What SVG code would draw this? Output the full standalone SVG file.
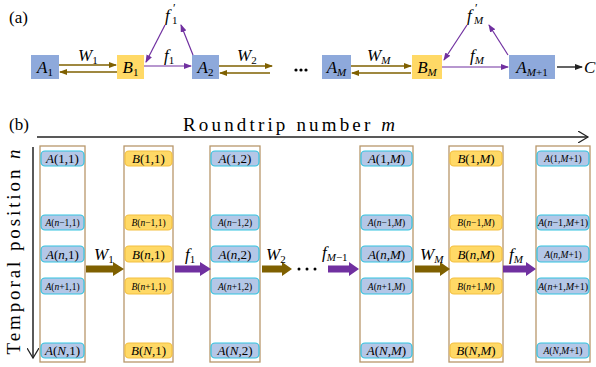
<svg xmlns="http://www.w3.org/2000/svg" width="596" height="367" viewBox="0 0 596 367" font-family="'Liberation Serif', 'Times New Roman', serif">
<style>
text{font-family:'Liberation Serif','Times New Roman',serif;fill:#000}
.i{font-style:italic}
.bA{fill:#8EA9DB}
.bB{fill:#FFD966}
.col{fill:#fff;stroke:#B8976B;stroke-width:1.3}
.cA{fill:#B4C7E7;stroke:#33C3E0;stroke-width:1.2}
.cB{fill:#FFD966;stroke:#F4C040;stroke-width:1.2}
.w{stroke:#7F6000;stroke-width:1.4;fill:none}
.f{stroke:#7030A0;stroke-width:1.2;fill:none}
.big{font-size:13px}
.sm{font-size:9.5px}
.lbl{font-size:17px}
.cell text{text-anchor:middle}
</style>
<defs>
<marker id="mw" markerWidth="8" markerHeight="6" refX="7" refY="3" orient="auto" markerUnits="userSpaceOnUse"><path d="M0,0 L8,3 L0,6 z" fill="#7F6000"/></marker>
<marker id="mf" markerWidth="8" markerHeight="6" refX="7" refY="3" orient="auto" markerUnits="userSpaceOnUse"><path d="M0,0 L8,3 L0,6 z" fill="#7030A0"/></marker>
<marker id="mk" markerWidth="8" markerHeight="6" refX="7" refY="3" orient="auto" markerUnits="userSpaceOnUse"><path d="M0,0 L8,3 L0,6 z" fill="#222"/></marker>
<marker id="mo" markerWidth="12" markerHeight="12" refX="10" refY="6" orient="auto" markerUnits="userSpaceOnUse"><path d="M0,0 L10,6 L0,12" fill="none" stroke="#222" stroke-width="1.2"/></marker>
</defs>

<text x="9" y="23" font-size="17">(a)</text>
<text x="9" y="130" font-size="17">(b)</text>

<!-- Part (a) nodes -->
<g id="a-A1"><rect class="bA" x="31" y="55" width="28" height="24"/><text x="45" y="73" text-anchor="middle" class="lbl"><tspan class="i">A</tspan><tspan font-size="11" dy="3">1</tspan></text></g>
<g id="a-B1"><rect class="bB" x="117" y="55" width="27" height="24"/><text x="130.5" y="73" text-anchor="middle" class="lbl"><tspan class="i">B</tspan><tspan font-size="11" dy="3">1</tspan></text></g>
<g id="a-A2"><rect class="bA" x="192" y="55" width="27" height="24"/><text x="205.5" y="73" text-anchor="middle" class="lbl"><tspan class="i">A</tspan><tspan font-size="11" dy="3">2</tspan></text></g>
<g id="a-AM"><rect class="bA" x="322" y="55" width="29" height="24"/><text x="336.5" y="73" text-anchor="middle" class="lbl"><tspan class="i">A</tspan><tspan font-size="11" dy="3" class="i">M</tspan></text></g>
<g id="a-BM"><rect class="bB" x="412" y="55" width="30" height="24"/><text x="427" y="73" text-anchor="middle" class="lbl"><tspan class="i">B</tspan><tspan font-size="11" dy="3" class="i">M</tspan></text></g>
<g id="a-AM1"><rect class="bA" x="509" y="55" width="46" height="24"/><text x="532" y="73" text-anchor="middle" class="lbl"><tspan class="i">A</tspan><tspan font-size="11" dy="3"><tspan class="i">M</tspan>+1</tspan></text></g>
<g id="a-C"><text x="584" y="73" class="lbl i">C</text></g>
<g id="a-f1p"><text x="165" y="21" class="lbl i">f</text><text x="173" y="12" font-size="12">′</text><text x="172" y="24" font-size="11">1</text></g>
<g id="a-fMp"><text x="467" y="21" class="lbl i">f</text><text x="475" y="12" font-size="12">′</text><text x="474" y="24" font-size="11" class="i">M</text></g>

<!-- Part (a) connectors -->
<g id="a-connectors">
<line class="w" x1="59" y1="65" x2="116" y2="65" marker-end="url(#mw)"/>
<line class="w" x1="117" y1="72" x2="60" y2="72" marker-end="url(#mw)"/>
<line class="f" x1="144" y1="66" x2="191" y2="66" marker-end="url(#mf)"/>
<line class="f" x1="193" y1="55" x2="181" y2="25" marker-end="url(#mf)"/>
<line class="f" x1="165" y1="25" x2="146" y2="62" marker-end="url(#mf)"/>
<line class="w" x1="219" y1="66" x2="272" y2="66" marker-end="url(#mw)"/>
<line class="w" x1="270" y1="73" x2="220" y2="73" marker-end="url(#mw)"/>
<line class="w" x1="351" y1="66" x2="411" y2="66" marker-end="url(#mw)"/>
<line class="w" x1="411" y1="73" x2="352" y2="73" marker-end="url(#mw)"/>
<line class="f" x1="442" y1="67" x2="508" y2="67" marker-end="url(#mf)"/>
<line class="f" x1="508" y1="55" x2="489" y2="25" marker-end="url(#mf)"/>
<line class="f" x1="467" y1="25" x2="444" y2="60" marker-end="url(#mf)"/>
<line x1="557" y1="67" x2="582" y2="67" stroke="#222" stroke-width="1.4" marker-end="url(#mk)"/>
<circle cx="296" cy="70" r="1.6" fill="#000"/><circle cx="301" cy="70" r="1.6" fill="#000"/><circle cx="306" cy="70" r="1.6" fill="#000"/>
<text x="78" y="61" class="lbl"><tspan class="i">W</tspan><tspan font-size="11" dy="3">1</tspan></text>
<text x="164" y="61" class="lbl"><tspan class="i">f</tspan><tspan font-size="11" dy="3">1</tspan></text>
<text x="237" y="61" class="lbl"><tspan class="i">W</tspan><tspan font-size="11" dy="3">2</tspan></text>
<text x="367" y="61" class="lbl"><tspan class="i">W</tspan><tspan font-size="11" dy="3" class="i">M</tspan></text>
<text x="470" y="61" class="lbl"><tspan class="i">f</tspan><tspan font-size="11" dy="3" class="i">M</tspan></text>
</g>

<!-- Part (b) axes -->
<text x="289" y="131" font-size="19" text-anchor="middle" textLength="212" lengthAdjust="spacing">Roundtrip number <tspan class="i">m</tspan></text>
<line x1="37" y1="137" x2="588" y2="137" stroke="#222" stroke-width="1.5" marker-end="url(#mo)"/>
<line x1="33" y1="147" x2="33" y2="358" stroke="#222" stroke-width="1.5" marker-end="url(#mo)"/>
<text transform="translate(20,252) rotate(-90)" font-size="19" text-anchor="middle" textLength="205" lengthAdjust="spacing">Temporal position <tspan class="i">n</tspan></text>

<!-- Column 1 -->
<g id="col-A1" class="cell">
<rect class="col" x="40" y="146" width="45" height="216"/>
<rect class="cA" x="41" y="151" width="43" height="15" rx="4"/><text x="62.5" y="162.5" class="big"><tspan class="i">A</tspan>(1,1)</text>
<rect class="cA" x="41" y="215" width="43" height="15" rx="4"/><text x="62.5" y="225.5" class="sm"><tspan class="i">A</tspan>(<tspan class="i">n</tspan>−1,1)</text>
<rect class="cA" x="41" y="246" width="43" height="16" rx="4"/><text x="62.5" y="258.5" class="big"><tspan class="i">A</tspan>(<tspan class="i">n</tspan>,1)</text>
<rect class="cA" x="41" y="278" width="43" height="16" rx="4"/><text x="62.5" y="289.5" class="sm"><tspan class="i">A</tspan>(<tspan class="i">n</tspan>+1,1)</text>
<rect class="cA" x="41" y="343" width="43" height="15" rx="4"/><text x="62.5" y="355" class="big"><tspan class="i">A</tspan>(<tspan class="i">N</tspan>,1)</text>
</g>
<!-- Column 2 -->
<g id="col-B1" class="cell">
<rect class="col" x="124" y="146" width="49" height="216"/>
<rect class="cB" x="125" y="151" width="47" height="15" rx="4"/><text x="148.5" y="162.5" class="big"><tspan class="i">B</tspan>(1,1)</text>
<rect class="cB" x="125" y="215" width="47" height="15" rx="4"/><text x="148.5" y="225.5" class="sm"><tspan class="i">B</tspan>(<tspan class="i">n</tspan>−1,1)</text>
<rect class="cB" x="125" y="246" width="47" height="16" rx="4"/><text x="148.5" y="258.5" class="big"><tspan class="i">B</tspan>(<tspan class="i">n</tspan>,1)</text>
<rect class="cB" x="125" y="278" width="47" height="16" rx="4"/><text x="148.5" y="289.5" class="sm"><tspan class="i">B</tspan>(<tspan class="i">n</tspan>+1,1)</text>
<rect class="cB" x="125" y="343" width="47" height="15" rx="4"/><text x="148.5" y="355" class="big"><tspan class="i">B</tspan>(<tspan class="i">N</tspan>,1)</text>
</g>
<!-- Column 3 -->
<g id="col-A2" class="cell">
<rect class="col" x="210" y="146" width="50" height="216"/>
<rect class="cA" x="211" y="151" width="48" height="15" rx="4"/><text x="235" y="162.5" class="big"><tspan class="i">A</tspan>(1,2)</text>
<rect class="cA" x="211" y="215" width="48" height="15" rx="4"/><text x="235" y="225.5" class="sm"><tspan class="i">A</tspan>(<tspan class="i">n</tspan>−1,2)</text>
<rect class="cA" x="211" y="246" width="48" height="16" rx="4"/><text x="235" y="258.5" class="big"><tspan class="i">A</tspan>(<tspan class="i">n</tspan>,2)</text>
<rect class="cA" x="211" y="278" width="48" height="16" rx="4"/><text x="235" y="289.5" class="sm"><tspan class="i">A</tspan>(<tspan class="i">n</tspan>+1,2)</text>
<rect class="cA" x="211" y="343" width="48" height="15" rx="4"/><text x="235" y="355" class="big"><tspan class="i">A</tspan>(<tspan class="i">N</tspan>,2)</text>
</g>
<!-- Column 4 -->
<g id="col-AM" class="cell">
<rect class="col" x="360" y="146" width="53" height="216"/>
<rect class="cA" x="361" y="151" width="51" height="15" rx="4"/><text x="386.5" y="162.5" class="big"><tspan class="i">A</tspan>(1,<tspan class="i">M</tspan>)</text>
<rect class="cA" x="361" y="215" width="51" height="15" rx="4"/><text x="386.5" y="225.5" class="sm"><tspan class="i">A</tspan>(<tspan class="i">n</tspan>−1,<tspan class="i">M</tspan>)</text>
<rect class="cA" x="361" y="246" width="51" height="16" rx="4"/><text x="386.5" y="258.5" class="big"><tspan class="i">A</tspan>(<tspan class="i">n</tspan>,<tspan class="i">M</tspan>)</text>
<rect class="cA" x="361" y="278" width="51" height="16" rx="4"/><text x="386.5" y="289.5" class="sm"><tspan class="i">A</tspan>(<tspan class="i">n</tspan>+1,<tspan class="i">M</tspan>)</text>
<rect class="cA" x="361" y="343" width="51" height="15" rx="4"/><text x="386.5" y="355" class="big"><tspan class="i">A</tspan>(<tspan class="i">N</tspan>,<tspan class="i">M</tspan>)</text>
</g>
<!-- Column 5 -->
<g id="col-BM" class="cell">
<rect class="col" x="449" y="146" width="54" height="216"/>
<rect class="cB" x="450" y="151" width="52" height="15" rx="4"/><text x="476" y="162.5" class="big"><tspan class="i">B</tspan>(1,<tspan class="i">M</tspan>)</text>
<rect class="cB" x="450" y="215" width="52" height="15" rx="4"/><text x="476" y="225.5" class="sm"><tspan class="i">B</tspan>(<tspan class="i">n</tspan>−1,<tspan class="i">M</tspan>)</text>
<rect class="cB" x="450" y="246" width="52" height="16" rx="4"/><text x="476" y="258.5" class="big"><tspan class="i">B</tspan>(<tspan class="i">n</tspan>,<tspan class="i">M</tspan>)</text>
<rect class="cB" x="450" y="278" width="52" height="16" rx="4"/><text x="476" y="289.5" class="sm"><tspan class="i">B</tspan>(<tspan class="i">n</tspan>+1,<tspan class="i">M</tspan>)</text>
<rect class="cB" x="450" y="343" width="52" height="15" rx="4"/><text x="476" y="355" class="big"><tspan class="i">B</tspan>(<tspan class="i">N</tspan>,<tspan class="i">M</tspan>)</text>
</g>
<!-- Column 6 -->
<g id="col-AM1" class="cell">
<rect class="col" x="536" y="146" width="54" height="216"/>
<rect class="cA" x="537" y="151" width="52" height="15" rx="4"/><text x="563" y="162" class="sm"><tspan class="i">A</tspan>(1,<tspan class="i">M</tspan>+1)</text>
<rect class="cA" x="537" y="215" width="52" height="15" rx="4"/><text x="563" y="225.5" class="sm" textLength="50" lengthAdjust="spacingAndGlyphs"><tspan class="i">A</tspan>(<tspan class="i">n</tspan>−1,<tspan class="i">M</tspan>+1)</text>
<rect class="cA" x="537" y="246" width="52" height="16" rx="4"/><text x="563" y="257.5" class="sm"><tspan class="i">A</tspan>(<tspan class="i">n</tspan>,<tspan class="i">M</tspan>+1)</text>
<rect class="cA" x="537" y="278" width="52" height="16" rx="4"/><text x="563" y="289.5" class="sm" textLength="50" lengthAdjust="spacingAndGlyphs"><tspan class="i">A</tspan>(<tspan class="i">n</tspan>+1,<tspan class="i">M</tspan>+1)</text>
<rect class="cA" x="537" y="343" width="52" height="15" rx="4"/><text x="563" y="354" class="sm"><tspan class="i">A</tspan>(<tspan class="i">N</tspan>,<tspan class="i">M</tspan>+1)</text>
</g>

<!-- Part (b) connectors -->
<g id="b-connectors">
<polygon fill="#7F6000" points="86,265.5 113,265.5 113,262 124,269 113,276 113,272.5 86,272.5"/>
<polygon fill="#7030A0" points="175,265.5 200,265.5 200,262 211,269 200,276 200,272.5 175,272.5"/>
<polygon fill="#7F6000" points="262,265.5 282,265.5 282,262 292,269 282,276 282,272.5 262,272.5"/>
<polygon fill="#7030A0" points="328,265.5 349,265.5 349,262 359,269 349,276 349,272.5 328,272.5"/>
<polygon fill="#7F6000" points="415,265.5 440,265.5 440,262 450,269 440,276 440,272.5 415,272.5"/>
<polygon fill="#7030A0" points="503,265.5 526,265.5 526,262 536,269 526,276 526,272.5 503,272.5"/>
<circle cx="299" cy="269" r="1.5" fill="#000"/><circle cx="307" cy="269" r="1.5" fill="#000"/><circle cx="315" cy="269" r="1.5" fill="#000"/>
<text x="94" y="260" class="lbl"><tspan class="i">W</tspan><tspan font-size="11" dy="3">1</tspan></text>
<text x="185" y="260" class="lbl"><tspan class="i">f</tspan><tspan font-size="11" dy="3">1</tspan></text>
<text x="266" y="260" class="lbl"><tspan class="i">W</tspan><tspan font-size="11" dy="3">2</tspan></text>
<text x="322" y="258" class="lbl"><tspan class="i">f</tspan><tspan font-size="11" dy="3"><tspan class="i">M</tspan>−1</tspan></text>
<text x="420" y="260" class="lbl"><tspan class="i">W</tspan><tspan font-size="11" dy="3" class="i">M</tspan></text>
<text x="509" y="260" class="lbl"><tspan class="i">f</tspan><tspan font-size="11" dy="3" class="i">M</tspan></text>
</g>
</svg>
